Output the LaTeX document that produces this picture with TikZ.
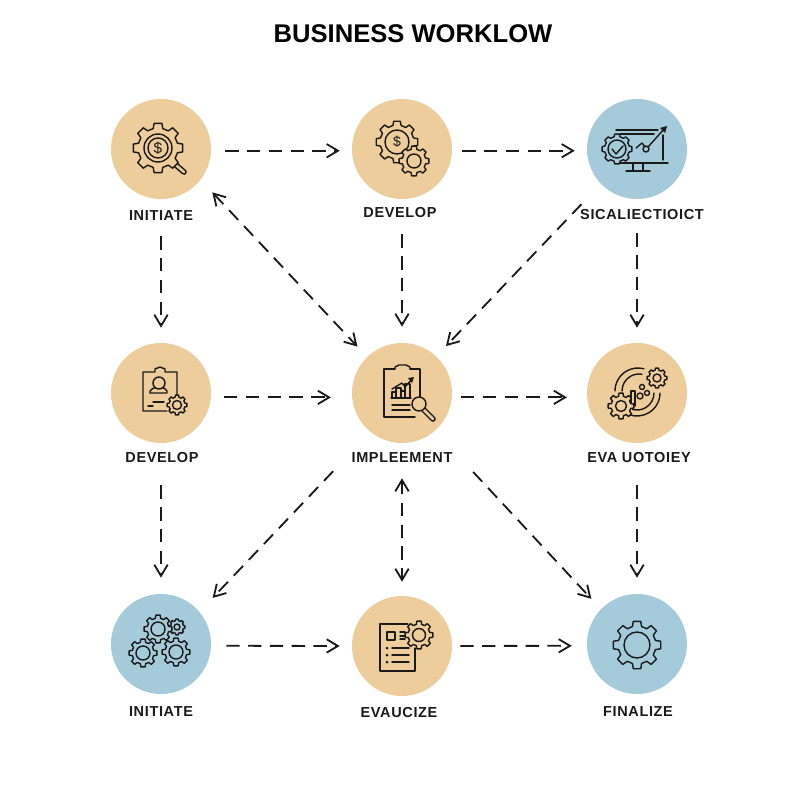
\documentclass[tikz,border=0pt]{standalone}
\usepackage{fontspec}
\setmainfont{Liberation Sans}
\newfontfamily\titlefont{Liberation Sans}
\newfontfamily\labelfont[LetterSpace=4.5]{Liberation Sans}
\usetikzlibrary{arrows.meta}
\definecolor{tanfill}{HTML}{EDCD9B}
\definecolor{bluefill}{HTML}{A5CBDA}
\definecolor{inkline}{HTML}{1A1A1A}

\newcommand{\gearicon}[6]{%
    \begin{scope}[shift={(#2,#3)}]
        \pgfmathsetmacro{\gstep}{360/8}
        \draw[iconline, fill=#1] ({-0.31*\gstep}:#5) \foreach \k in {0,...,7} {-- ({(\k-0.31)*\gstep}:#5) -- ({(\k-0.2)*\gstep}:#4) -- ({(\k+0.2)*\gstep}:#4) -- ({(\k+0.31)*\gstep}:#5)} -- cycle;
        \draw[iconline] (0,0) circle (#6);
    \end{scope}}

\begin{document}
\begin{tikzpicture}[x=0.025cm, y=-0.025cm]
    \tikzset{iconline/.style = {line width=1pt, color=inkline, line join=round, line cap=round}}
    \tikzset{Flowline/.style = {line width=1.3pt, color=inkline, dash pattern=on 9.5pt off 6pt, -{Straight Barb[length=8pt, width=9.5pt]}}}
    \tikzset{tanstep/.style = {circle, minimum size=2.5cm, inner sep=0pt, fill=tanfill}}
    \tikzset{bluestep/.style = {circle, minimum size=2.5cm, inner sep=0pt, fill=bluefill}}
    \tikzset{steplabel/.style = {inner sep=0pt, color=inkline, font=\labelfont\bfseries\fontsize{10.3}{12}\selectfont}}
    \tikzset{coinlabel/.style = {inner sep=0pt, color=inkline}}
    \useasboundingbox (0,0) rectangle (800,800);
    \fill[white] (0,0) rectangle (800,800);
    \node[inner sep=0pt, color=black, font=\titlefont\bfseries\fontsize{18.2}{20}\selectfont] (title) at (413,34) {BUSINESS WORKLOW};

    % circles
    \node[tanstep] (init1) at (161,149) {};
    \node[tanstep] (dev1) at (402,149) {};
    \node[bluestep] (sel1) at (637,149) {};
    \node[tanstep] (dev2) at (161,393) {};
    \node[tanstep] (impl) at (402,393) {};
    \node[tanstep] (eva2) at (637,393) {};
    \node[bluestep] (init3) at (161,644) {};
    \node[tanstep] (eva3) at (402,646) {};
    \node[bluestep] (fin) at (637,644) {};

    % labels
    \node[steplabel] (init1l) at (161,216) {INITIATE};
    \node[steplabel] (dev1l) at (400,213) {DEVELOP};
    \node[steplabel] (sel1l) at (642,215) {SICALIECTIOICT};
    \node[steplabel] (dev2l) at (162,458) {DEVELOP};
    \node[steplabel] (impll) at (402,458) {IMPLEEMENT};
    \node[steplabel] (eva2l) at (639,458) {EVA UOTOIEY};
    \node[steplabel] (init3l) at (161,712) {INITIATE};
    \node[steplabel] (eva3l) at (399,713) {EVAUCIZE};
    \node[steplabel] (finl) at (638,712) {FINALIZE};

    % connectors
    \draw[Flowline, shorten <=14*0.711pt, shorten >=12*0.711pt] (init1.-2) -- (dev1.182);
    \draw[Flowline, shorten <=10*0.711pt, shorten >=12*0.711pt] (dev1.-2) -- (sel1.182);
    \draw[Flowline, shorten <=13*0.711pt, shorten >=21*0.711pt] (dev2.-5) -- (impl.185);
    \draw[Flowline, shorten <=9*0.711pt, shorten >=20*0.711pt] (impl.-5) -- (eva2.185);
    \draw[Flowline, shorten <=15*0.711pt, shorten >=12*0.711pt] (init3.-2) -- (eva3.180);
    \draw[Flowline, shorten <=8*0.711pt, shorten >=15*0.711pt] (eva3.0) -- (fin.182);
    \draw[Flowline, shorten <=15*0.711pt, shorten >=15*0.711pt] (init1l.south -| init1) -- (dev2.north);
    \draw[Flowline, shorten <=22*0.711pt, shorten >=16*0.711pt] (dev2l.south -| dev2) -- (init3.north);
    \draw[Flowline, shorten <=16*0.711pt, shorten >=16*0.711pt] (dev1l.south -| dev1) -- (impl.north);
    \draw[Flowline, <->, >={Straight Barb[length=8pt, width=9.5pt]}, shorten <=15*0.711pt, shorten >=14*0.711pt] (impll.south -| impl) -- (eva3.north);
    \draw[Flowline, shorten <=13*0.711pt, shorten >=15*0.711pt] (sel1l.south -| sel1) -- (eva2.north);
    \draw[Flowline, shorten <=22*0.711pt, shorten >=16*0.711pt] (eva2l.south -| eva2) -- (fin.north);
    \draw[Flowline, <->, >={Straight Barb[length=8pt, width=9.5pt]}, shorten <=17*0.711pt, shorten >=14*0.711pt] (init1.-38) -- (impl.134);
    \draw[Flowline, shorten <=28*0.711pt, shorten >=14*0.711pt] (sel1.224) -- (impl.47);
    \draw[Flowline, shorten <=54*0.711pt, shorten >=19*0.711pt] (impl.231) -- (init3.40);
    \draw[Flowline, shorten <=56*0.711pt, shorten >=14*0.711pt] (impl.-49) -- (fin.136);

    % icon: gear with coin and magnifier
    \draw[iconline, line width=4pt] (170,160) -- (184,172);
    \draw[tanfill, line width=1.8pt, line cap=round] (170,160) -- (184,172);
    \gearicon{tanfill}{158}{148}{25}{20}{14}
    \draw[iconline] (158,148) circle (10);
    \node[coinlabel, font=\fontsize{11}{12}\selectfont] (coin1) at (158,148) {\$};

    % icon: two gears with coin
    \gearicon{tanfill}{397}{142}{21}{17}{12}
    \node[coinlabel, font=\fontsize{10}{12}\selectfont] (coin2) at (397,142) {\$};
    \gearicon{tanfill}{414}{161}{15}{12}{7}

    % icon: monitor
    \draw[iconline] (616,130) -- (658,130);
    \draw[iconline] (620,134) -- (654,134);
    \draw[iconline] (663,135) -- (663,160);
    \draw[iconline] (615,160) -- (615,163) -- (668,163);
    \draw[iconline] (633,164) -- (633,171);
    \draw[iconline] (643,164) -- (643,171);
    \draw[iconline] (626,171) -- (650,171);
    \draw[iconline] (636,148) -- (642,143) -- (645,147);
    \draw[iconline] (648,147) -- (665,128);
    \draw[iconline] (646,149) circle (3);
    \fill[inkline] (667,126) -- (660,128) -- (665,133) -- cycle;
    \gearicon{bluefill}{617}{149}{15}{12.5}{9}
    \draw[iconline] (612,149) -- (616,154) -- (623,146);

    % icon: clipboard with person
    \draw[iconline] (177,395) -- (177,372) -- (165,372) -- (165,369) -- (160,367) -- (155,369) -- (155,372) -- (143,372) -- (143,411) -- (167,411);
    \draw[iconline] (159,383) circle (6);
    \draw[iconline] (150,393) -- (167,393) -- (167,391) .. controls (166,388) and (163,388) .. (163,388);
    \draw[iconline] (150,393) -- (150,391) .. controls (151,388) and (155,388) .. (155,388);
    \draw[iconline] (153,402) -- (164,402);
    \draw[iconline] (148,406) -- (153,406);
    \gearicon{tanfill}{177}{405}{10}{8}{4.5}

    % icon: clipboard with chart
    \draw[iconline] (420,402) -- (420,369) -- (410,369);
    \draw[iconline] (395,369) -- (384,369) -- (384,417) -- (415,417);
    \draw[iconline] (395,369) -- (395,367) -- (399,365) -- (406,365) -- (410,367) -- (410,369);
    \draw[iconline] (392,398) -- (392,392) -- (396,392) -- (396,398);
    \draw[iconline] (396,398) -- (396,388) -- (401,388) -- (401,398);
    \draw[iconline] (401,398) -- (401,391) -- (405,391) -- (405,398);
    \draw[iconline] (405,398) -- (405,384) -- (410,384) -- (410,398);
    \draw[iconline] (391,398) -- (411,398);
    \draw[iconline] (392,389) -- (402,383) -- (405,387) -- (412,379);
    \fill[inkline] (414,377) -- (408,378) -- (412,383) -- cycle;
    \draw[iconline] (392,405) -- (410,405);
    \draw[iconline] (392,410) -- (410,410);
    \draw[iconline, line width=4pt] (424,410) -- (433,419);
    \draw[tanfill, line width=1.8pt, line cap=round] (424,410) -- (433,419);
    \draw[iconline, fill=tanfill] (419,404) circle (7);

    % icon: gears and cycle
    \draw[iconline] (615,391) arc[start angle=180, end angle=285, radius=23];
    \draw[iconline] (622,391) arc[start angle=180, end angle=280, radius=17];
    \draw[iconline] (660,393) arc[start angle=0, end angle=110, radius=23];
    \draw[iconline] (654,393) arc[start angle=0, end angle=105, radius=17];
    \draw[iconline] (631,406) -- (631,391) -- (635,391) -- (635,406);
    \draw[iconline] (640,396) circle (3);
    \draw[iconline] (642,387) circle (2.5);
    \draw[iconline] (647,393) circle (2.5);
    \gearicon{tanfill}{621}{406}{13}{10}{5.5}
    \gearicon{tanfill}{657}{378}{10}{8}{4}

    % icon: four gears
    \gearicon{bluefill}{177}{627}{8}{6.5}{3}
    \gearicon{bluefill}{158}{629}{14}{11}{7}
    \gearicon{bluefill}{143}{653}{14}{11}{7}
    \gearicon{bluefill}{176}{652}{14}{11}{7}

    % icon: report with gear
    \draw[iconline] (408,624) -- (380,624) -- (380,671) -- (415,671) -- (415,648);
    \draw[iconline] (387,632) rectangle (395,640);
    \draw[iconline] (400,632) -- (405,632);
    \draw[iconline] (400,636) -- (405,636);
    \draw[iconline] (400,639) -- (405,639);
    \foreach \ly in {648,655,662} {
        \fill[inkline] (387,\ly) circle (1.5);
        \draw[iconline] (392,\ly) -- (409,\ly);
    }
    \gearicon{tanfill}{419}{635}{14}{11}{6.5}

    % icon: single gear
    \gearicon{bluefill}{637}{645}{24}{19}{13}
\end{tikzpicture}
\end{document}
